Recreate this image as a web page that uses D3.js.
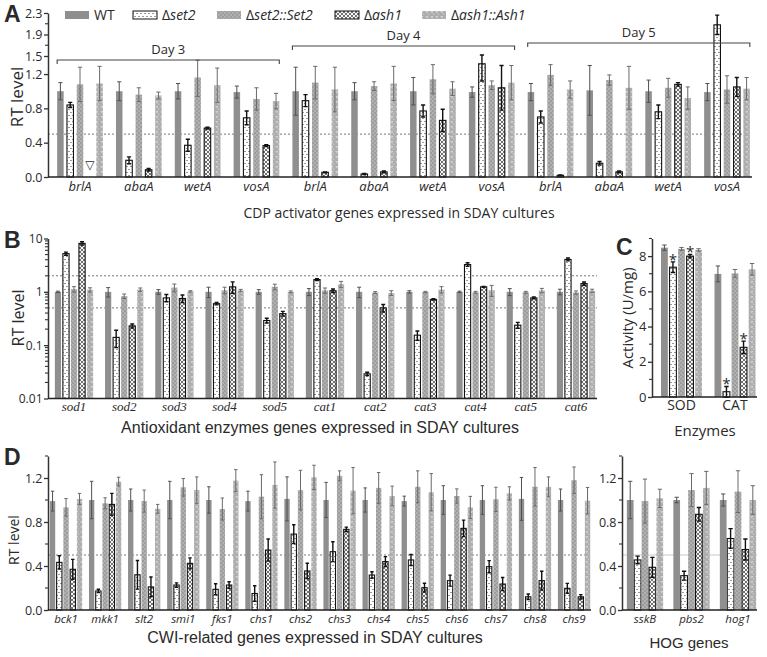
<!DOCTYPE html>
<html><head><meta charset="utf-8">
<script src="https://cdn.jsdelivr.net/npm/d3@7"></script>
<style>
body{margin:0;background:#fff;}
svg{display:block;}
text{fill:#2a2a2a;}
</style></head>
<body>
<svg id="chart" width="767" height="657"></svg>
<script>
// ---------------- DATA ----------------
const strains = ["WT","Δset2","Δset2::Set2","Δash1","Δash1::Ash1"];

// Panel A (Day 3, Day 4, Day 5 × brlA, abaA, wetA, vosA)
const aGenes = ["brlA","abaA","wetA","vosA","brlA","abaA","wetA","vosA","brlA","abaA","wetA","vosA"];
const aDays = ["Day 3","Day 4","Day 5"];
const aWT    = [1.00,1.00,1.00,0.99, 1.00,1.00,1.00,0.99, 0.99,1.01,1.00,0.99];
const aWTe   = [0.10,0.11,0.09,0.07, 0.28,0.10,0.16,0.06, 0.10,0.29,0.13,0.10];
const aSet2  = [0.84,0.195,0.37,0.69, 0.89,0.035,0.77,1.32, 0.70,0.16,0.76,2.08];
const aSet2e = [0.03,0.04,0.07,0.08, 0.07,0.005,0.07,0.20, 0.07,0.02,0.08,0.18];
const aSet2C = [1.08,0.96,1.16,0.91, 1.10,1.06,1.14,1.07, 1.19,1.13,1.04,1.02];
const aSet2Ce= [0.20,0.08,0.22,0.13, 0.19,0.05,0.17,0.05, 0.12,0.06,0.11,0.16];
const aAsh1  = [0.00,0.085,0.57,0.366, 0.055,0.06,0.66,1.04, 0.02,0.06,1.08,1.05];
const aAsh1e = [0.00,0.015,0.01,0.01, 0.005,0.01,0.13,0.26, 0.005,0.01,0.02,0.11];
const aAsh1C = [1.09,0.95,1.07,0.885, 1.02,1.09,1.03,1.10, 1.02,1.04,0.92,1.03];
const aAsh1Ce= [0.20,0.04,0.20,0.09, 0.26,0.20,0.08,0.20, 0.10,0.25,0.13,0.13];
const aTicks = [0,0.4,0.8,1.2,1.5,1.9,2.3];
const aMinor = [1.7,2.1];

// Panel B (log scale)
const bGenes = ["sod1","sod2","sod3","sod4","sod5","cat1","cat2","cat3","cat4","cat5","cat6"];
const bWT    = [1.0,1.0,1.0,1.0,1.0,1.0,1.0,1.0,1.0,1.0,1.0];
const bWTe   = [0.03,0.2,0.1,0.22,0.1,0.15,0.22,0.05,0.03,0.15,0.12];
const bSet2  = [5.2,0.14,0.77,0.6,0.29,1.7,0.029,0.154,3.25,0.237,4.05];
const bSet2e = [0.35,0.05,0.12,0.03,0.03,0.07,0.002,0.03,0.25,0.03,0.25];
const bSet2C = [1.12,0.83,1.2,1.07,1.24,1.06,0.97,0.99,0.98,0.98,0.97];
const bSet2Ce= [0.13,0.08,0.2,0.15,0.15,0.12,0.04,0.03,0.04,0.04,0.07];
const bAsh1  = [8.1,0.23,0.75,1.24,0.39,1.05,0.5,0.72,1.24,0.77,1.43];
const bAsh1e = [0.6,0.02,0.12,0.3,0.04,0.08,0.08,0.02,0.02,0.03,0.1];
const bAsh1C = [1.09,1.1,1.02,1.06,1.0,1.39,0.95,1.1,1.07,1.06,1.05];
const bAsh1Ce= [0.1,0.08,0.03,0.05,0.04,0.18,0.1,0.15,0.25,0.1,0.07];
const bTicks = [0.01,0.1,1,10];

// Panel C (enzyme activity, U/mg)
const cEnz   = ["SOD","CAT"];
const cWT    = [8.48,6.99],  cWTe   = [0.15,0.45];
const cSet2  = [7.37,0.30],  cSet2e = [0.30,0.30];
const cSet2C = [8.41,7.02],  cSet2Ce= [0.08,0.22];
const cAsh1  = [8.00,2.82],  cAsh1e = [0.10,0.35];
const cAsh1C = [8.35,7.25],  cAsh1Ce= [0.07,0.33];
const cStar  = ["Δset2","Δash1"];
const cTicks = [0,2,4,6,8];
const cMinor = [1,3,5,7,9];

// Panel D left (CWI genes)
const dGenes = ["bck1","mkk1","slt2","smi1","fks1","chs1","chs2","chs3","chs4","chs5","chs6","chs7","chs8","chs9"];
const dWT    = [0.99,1.0,1.0,1.0,1.0,0.99,1.01,1.0,1.0,0.99,1.0,1.0,1.01,1.0];
const dWTe   = [0.09,0.17,0.1,0.17,0.12,0.09,0.2,0.16,0.11,0.045,0.13,0.13,0.195,0.1];
const dSet2  = [0.433,0.173,0.32,0.227,0.188,0.15,0.69,0.53,0.318,0.455,0.267,0.394,0.12,0.197];
const dSet2e = [0.06,0.015,0.13,0.02,0.05,0.07,0.085,0.09,0.03,0.05,0.05,0.055,0.025,0.045];
const dSet2C = [0.933,0.97,0.99,1.115,0.918,1.03,1.09,1.22,1.11,1.12,1.036,1.006,1.12,1.18];
const dSet2Ce= [0.08,0.05,0.1,0.08,0.1,0.2,0.18,0.045,0.14,0.145,0.065,0.11,0.175,0.12];
const dAsh1  = [0.37,0.96,0.21,0.424,0.227,0.545,0.355,0.733,0.44,0.203,0.742,0.236,0.267,0.12];
const dAsh1e = [0.09,0.1,0.09,0.05,0.03,0.1,0.07,0.02,0.045,0.04,0.075,0.06,0.085,0.02];
const dAsh1C = [1.01,1.167,0.92,1.09,1.176,1.136,1.206,1.085,1.036,1.07,0.933,1.06,1.12,0.994];
const dAsh1Ce= [0.05,0.04,0.04,0.12,0.1,0.21,0.11,0.21,0.09,0.17,0.1,0.06,0.09,0.12];

// Panel D right (HOG genes)
const hGenes = ["sskB","pbs2","hog1"];
const hWT    = [1.0,1.0,1.0],     hWTe   = [0.17,0.025,0.055];
const hSet2  = [0.455,0.312,0.65],hSet2e = [0.035,0.04,0.09];
const hSet2C = [0.99,1.09,1.076], hSet2Ce= [0.2,0.15,0.19];
const hAsh1  = [0.388,0.87,0.55], hAsh1e = [0.09,0.062,0.095];
const hAsh1C = [1.015,1.11,1.0],  hAsh1Ce= [0.083,0.15,0.13];
const dTicks = [0,0.4,0.8,1.2];
const dMinor = [0.2,0.6,1.0,1.4];

// ---------------- DRAWING ----------------
const svg = d3.select("#chart");
const SANS = "'Open Sans', sans-serif";
const ARIAL = "'Liberation Sans', Arial, sans-serif";
const SERIF = "'Liberation Serif', serif";

const defs = svg.append("defs");
function pat(id,w,h,bg,draw){
  const p = defs.append("pattern").attr("id",id).attr("width",w).attr("height",h).attr("patternUnits","userSpaceOnUse");
  p.append("rect").attr("width",w).attr("height",h).attr("fill",bg);
  draw(p);
}
pat("pDot",4,6,"#fff",p=>{
  p.append("circle").attr("cx",1).attr("cy",1.5).attr("r",0.6).attr("fill","#222");
  p.append("circle").attr("cx",3).attr("cy",4.5).attr("r",0.6).attr("fill","#222");
});
pat("pGD",4,4,"#9d9d9d",p=>{
  p.append("circle").attr("cx",1).attr("cy",1).attr("r",0.65).attr("fill","#d4d4d4");
  p.append("circle").attr("cx",3).attr("cy",3).attr("r",0.65).attr("fill","#d4d4d4");
});
pat("pZig",4,4,"#f6f6f6",p=>{
  p.append("path").attr("d","M0,0 L4,4 M4,0 L0,4").attr("stroke","#3a3a3a").attr("stroke-width",0.7).attr("fill","none");
});
pat("pSq",5,5,"#adadad",p=>{
  p.append("path").attr("d","M0.8,1 L1.8,2.6 L2.8,1").attr("stroke","#ececec").attr("stroke-width",0.7).attr("fill","none");
  p.append("path").attr("d","M3,3.4 L4,4.8").attr("stroke","#ececec").attr("stroke-width",0.6).attr("fill","none");
});

const fills   = ["#8f8f8f","url(#pDot)","url(#pGD)","url(#pZig)","url(#pSq)"];
const strokes = ["none","#111","none","#111","none"];
const errCol  = ["#505050","#111","#6a6a6a","#111","#6a6a6a"];
const errW    = [1,1.4,1,1.4,1];

function bars(g, xs, y, base, L, p, series){
  const x1 = d3.scaleBand().domain(strains).range([-L/2, L/2]).paddingInner(p);
  const bw = x1.bandwidth();
  const rows = [];
  xs.domain().forEach(i=>{
    strains.forEach((s,k)=>{
      rows.push({i, k, s, v: series[k][0][i], e: series[k][1][i]});
    });
  });
  const cx = d => xs(d.i) + xs.bandwidth()/2 + x1(d.s);
  g.selectAll("rect.bar").data(rows.filter(d=>d.v>0)).join("rect").attr("class","bar")
    .attr("x",cx).attr("width",bw)
    .attr("y",d=>y(d.v)).attr("height",d=>y(base)-y(d.v))
    .attr("fill",d=>fills[d.k]).attr("stroke",d=>strokes[d.k]).attr("stroke-width",1.1);
  const cw = bw*0.32;
  g.selectAll("path.err").data(rows.filter(d=>d.v>0 && d.e>0)).join("path").attr("class","err")
    .attr("d",d=>{
      const xc = cx(d)+bw/2, y1 = y(d.v+d.e), y0 = y(Math.max(d.v-d.e, base));
      return `M${xc},${y0}V${y1}M${xc-cw},${y1}H${xc+cw}M${xc-cw},${y0}H${xc+cw}`;
    })
    .attr("stroke",d=>errCol[d.k]).attr("stroke-width",d=>errW[d.k]).attr("fill","none");
  return {x1, cx, bw, rows};
}

function yAxis(g, x, y, ticks, minor, fmt, fs){
  const ax = g.append("g").attr("transform",`translate(${x},0)`)
    .call(d3.axisLeft(y).tickValues(ticks).tickFormat(fmt).tickSize(4).tickPadding(1.5).tickSizeOuter(0));
  ax.select(".domain").attr("stroke","#333").attr("stroke-width",1.5);
  ax.selectAll(".tick line").attr("stroke","#333").attr("stroke-width",1.3);
  ax.selectAll(".tick text").attr("font-family",SANS).attr("font-size",fs).attr("fill","#333");
  if(minor){
    g.append("g").selectAll("line").data(minor).join("line")
      .attr("x1",x-3).attr("x2",x).attr("y1",d=>y(d)).attr("y2",d=>y(d))
      .attr("stroke","#333").attr("stroke-width",1.1);
  }
  return ax;
}
function baseline(g, x0, x1, yv){
  g.append("line").attr("x1",x0).attr("x2",x1).attr("y1",yv).attr("y2",yv)
    .attr("stroke","#222").attr("stroke-width",1.6);
}
function hline(g,x0,x1,yv,col,dash){
  g.append("line").attr("x1",x0).attr("x2",x1).attr("y1",yv).attr("y2",yv)
    .attr("stroke",col).attr("stroke-width",0.8).attr("stroke-dasharray",dash);
}
function xLabels(g, xs, labels, yv, font, fs, italic){
  g.append("g").selectAll("text").data(xs.domain()).join("text")
    .attr("x",i=>xs(i)+xs.bandwidth()/2).attr("y",yv).attr("text-anchor","middle")
    .attr("font-family",font).attr("font-size",fs).attr("font-style",italic?"italic":"normal")
    .text(i=>labels[i]);
}
function txt(x,y,s,font,fs,opt={}){
  const t = svg.append("text").attr("x",x).attr("y",y).attr("font-family",font).attr("font-size",fs)
    .attr("text-anchor",opt.anchor||"middle").text(s);
  if(opt.bold) t.attr("font-weight","bold");
  if(opt.rot) t.attr("transform",`rotate(-90,${x},${y})`);
  if(opt.fill) t.attr("fill",opt.fill);
  return t;
}

// ===== Panel A =====
const gA = svg.append("g");
const yA = d3.scaleLinear().domain([0,1.35,1.5,2.3]).range([177,61.2,56,13]);
const xA = d3.scaleBand().domain(d3.range(aGenes.length)).range([50.6,756.4]);
hline(gA,48,752,yA(0.5),"#555","2,2");
const A = bars(gA, xA, yA, 0, 45.7, 0.337, [[aWT,aWTe],[aSet2,aSet2e],[aSet2C,aSet2Ce],[aAsh1,aAsh1e],[aAsh1C,aAsh1Ce]]);
// not-detected marker
A.rows.filter(d=>d.v===0).forEach(d=>{
  svg.append("text").attr("x",A.cx(d)+A.bw/2).attr("y",yA(0)-8).attr("text-anchor","middle")
    .attr("font-family","'DejaVu Sans'").attr("font-size",12).text("▽");
});
yAxis(gA,48,yA,aTicks,aMinor,d3.format(".1f"),12.5);
baseline(gA,48,752,yA(0));
xLabels(gA,xA,aGenes,191,SANS,13,true);
// day brackets
const dayY = [60,46,43], dayLY=[54,40,37];
aDays.forEach((dname,j)=>{
  const x0 = xA(j*4)+xA.bandwidth()/2 - 22.85, x1 = xA(j*4+3)+xA.bandwidth()/2 + 22.85;
  gA.append("path").attr("d",`M${x0},${dayY[j]+4}V${dayY[j]}H${x1}V${dayY[j]+4}`)
    .attr("stroke","#444").attr("stroke-width",1.1).attr("fill","none");
  txt((x0+x1)/2, dayLY[j], dname, SANS, 13);
});
txt(4,22,"A",ARIAL,23,{bold:true,anchor:"start"});
txt(23,97,"RT level",SANS,17,{rot:true});
txt(399,218,"CDP activator genes expressed in SDAY cultures",SANS,14);

// legend
const legX = [65,133,217,335,422];
strains.forEach((s,k)=>{
  svg.append("rect").attr("x",legX[k]).attr("y",11).attr("width",24).attr("height",8)
    .attr("fill",fills[k]).attr("stroke",strokes[k]==="none"?"none":"#111").attr("stroke-width",1);
  const t = svg.append("text").attr("x",legX[k]+29).attr("y",20).attr("font-family",SANS).attr("font-size",14);
  if(s==="WT"){ t.text(s); }
  else { t.append("tspan").text("Δ"); t.append("tspan").attr("font-style","italic").text(s.slice(1)); }
});

// ===== Panel B =====
const gB = svg.append("g");
const yB = d3.scaleLog().domain([0.01,10]).range([398.5,238.5]);
const xB = d3.scaleBand().domain(d3.range(bGenes.length)).range([48.9,601.1]);
hline(gB,48,597,yB(2),"#555","2,2");
hline(gB,48,597,yB(0.5),"#555","2,2");
bars(gB, xB, yB, 0.01, 38.3, 0.23, [[bWT,bWTe],[bSet2,bSet2e],[bSet2C,bSet2Ce],[bAsh1,bAsh1e],[bAsh1C,bAsh1Ce]]);
const bMinor = [];
[0.01,0.1,1].forEach(dec=>{ for(let m=2;m<=9;m++) bMinor.push(dec*m); });
yAxis(gB,48,yB,bTicks,bMinor,d=>String(d),12);
baseline(gB,48,597,yB(0.01));
xLabels(gB,xB,bGenes,411,SERIF,13,true);
txt(4,248,"B",ARIAL,23,{bold:true,anchor:"start"});
txt(24,318,"RT level",SANS,16,{rot:true});
txt(320,433,"Antioxidant enzymes genes expressed in SDAY cultures",ARIAL,16);

// ===== Panel C =====
const gC = svg.append("g");
const yC = d3.scaleLinear().domain([0,9]).range([397,238.5]);
const xC = d3.scaleBand().domain(d3.range(cEnz.length)).range([654.75,761.75]);
const C = bars(gC, xC, yC, 0, 41, 0.2, [[cWT,cWTe],[cSet2,cSet2e],[cSet2C,cSet2Ce],[cAsh1,cAsh1e],[cAsh1C,cAsh1Ce]]);
C.rows.filter(d=>cStar.includes(d.s)).forEach(d=>{
  svg.append("text").attr("x",C.cx(d)+C.bw/2).attr("y",yC(d.v+d.e)+3).attr("text-anchor","middle")
    .attr("font-family",SANS).attr("font-size",15).text("*");
});
yAxis(gC,652,yC,cTicks,cMinor,d=>String(d),13);
baseline(gC,652,757,yC(0));
xLabels(gC,xC,cEnz,410,SANS,14,false);
txt(616,255,"C",ARIAL,23,{bold:true,anchor:"start"});
txt(633,318,"Activity (U/mg)",SANS,15,{rot:true});
txt(705,436,"Enzymes",SANS,15);

// ===== Panel D =====
const gD = svg.append("g");
const yD = d3.scaleLinear().domain([0,1.4]).range([610,456]);
const xD = d3.scaleBand().domain(d3.range(dGenes.length)).range([46.5,593.6]);
hline(gD,48,591,yD(0.5),"#555","2,2");
bars(gD, xD, yD, 0, 32.3, 0.21, [[dWT,dWTe],[dSet2,dSet2e],[dSet2C,dSet2Ce],[dAsh1,dAsh1e],[dAsh1C,dAsh1Ce]]);
yAxis(gD,48,yD,dTicks,dMinor,d3.format(".1f"),12.5);
baseline(gD,48,591,yD(0));
xLabels(gD,xD,dGenes,623,SANS,11.5,true);
txt(4,465,"D",ARIAL,23,{bold:true,anchor:"start"});
txt(19,540,"RT level",SANS,14,{rot:true});
txt(315,643,"CWI-related genes expressed in SDAY cultures",ARIAL,16);

const gH = svg.append("g");
const xH = d3.scaleBand().domain(d3.range(hGenes.length)).range([621.75,761.25]);
hline(gH,622,757,yD(0.5),"#bbb","none");
bars(gH, xH, yD, 0, 36.3, 0.095, [[hWT,hWTe],[hSet2,hSet2e],[hSet2C,hSet2Ce],[hAsh1,hAsh1e],[hAsh1C,hAsh1Ce]]);
yAxis(gH,622,yD,dTicks,dMinor,d3.format(".1f"),12.5);
baseline(gH,622,757,yD(0));
xLabels(gH,xH,hGenes,623,SANS,11.5,true);
txt(689,648,"HOG genes",ARIAL,15);
</script>
</body></html>
